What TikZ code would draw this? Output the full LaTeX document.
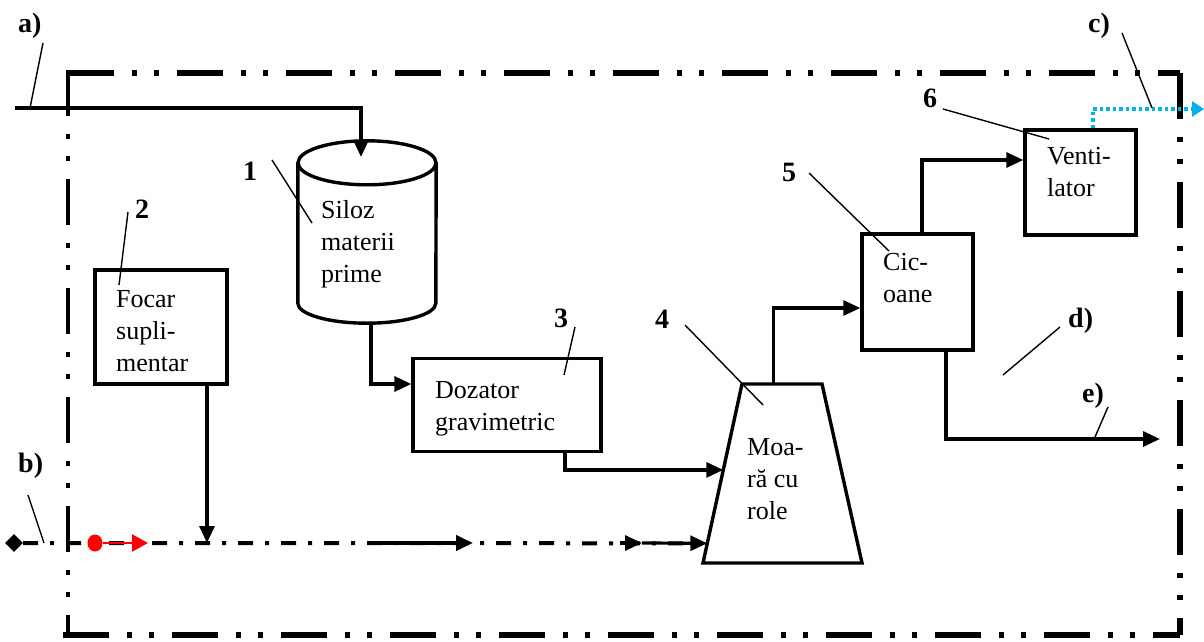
\documentclass[tikz,border=0pt]{standalone}
\usepackage{fontspec}
\setmainfont{Liberation Serif}
\usepackage{tikz}
\usetikzlibrary{arrows.meta, calc, shapes.geometric}

\definecolor{aer}{RGB}{0,176,240}

\begin{document}
\begin{tikzpicture}[x=1pt, y=-1pt, >={Triangle[length=17pt,width=15pt]},
    every node/.style={font=\fontsize{26}{32}\selectfont, inner sep=0pt},
    unitbox/.style={draw, line width=3.4pt},
    txt/.style={anchor=north west, align=left},
    num/.style={anchor=base west, font=\fontsize{28}{32}\selectfont\bfseries},
    leader/.style={line width=1.4pt},
    flow/.style={->, line width=3.2pt},
    edge/.style={line width=6pt, dash pattern=on 46pt off 18pt on 5pt off 17pt on 5pt off 18pt},
    gasline/.style={line width=4pt, dash pattern=on 15pt off 12pt on 4pt off 12pt}]
    \useasboundingbox (0,0) rectangle (1204,642);

    % 1. contur instalatie
    \draw[edge] (68,73) -- (1180,73);
    \draw[edge, line width=4.5pt] (68,70) -- (68,635);
    \draw[edge] (1180,73) -- (1180,635);
    \draw[edge] (63,635) -- (1180,635);

    % 2. utilaje
    \node[minimum width=138, minimum height=140] (siloz) at (367,233) {};
    \draw[line width=3.4pt] (siloz.north west) -- (siloz.south west)
        arc[start angle=180, end angle=360, x radius=69pt, y radius=20pt] -- (siloz.north east);
    \draw[line width=3.4pt] (siloz.north) ellipse[x radius=69pt, y radius=22pt];
    \node[unitbox, minimum width=132, minimum height=114] (focar) at (161,327) {};
    \node[unitbox, minimum width=188, minimum height=93] (dozator) at (507,405) {};
    \node[unitbox, minimum width=111, minimum height=116] (cicloane) at (917.5,292) {};
    \node[unitbox, minimum width=111, minimum height=105] (ventilator) at (1080.5,182.5) {};
    \coordinate (mtl) at (742,384);
    \coordinate (mtr) at (822,384);
    \coordinate (mbr) at (862,563);
    \coordinate (mbl) at (703,563);
    \draw[line width=3.4pt] (mtl) -- (mtr) -- (mbr) -- (mbl) -- cycle;

    % 3. texte
    \node[txt] (tsiloz) at (321,200) {Siloz\\materii\\prime};
    \node[txt] (tfocar) at (116,290) {Focar\\supli-\\mentar};
    \node[txt] (tdozator) at (435,381) {Dozator\\gravimetric};
    \node[txt] (tmoara) at (747,438) {Moa-\\ră cu\\role};
    \node[txt] (tcicloane) at (883,253) {Cic-\\oane};
    \node[txt] (tventilator) at (1047,147) {Venti-\\lator};

    % 4. fluxuri de material
    \coordinate (ain) at (15,108);
    \coordinate (siloin) at (361,157);
    \draw[flow] (ain) -| (siloin);
    \draw[flow] ([xshift=4pt,yshift=-20pt]siloz.south) |- ([yshift=21pt]dozator.west);
    \draw[flow] ([xshift=58pt]dozator.south) |- ($(mtl)!0.48!(mbl)$);
    \draw[flow] ($(mtl)!0.39!(mtr)$) |- ([yshift=-16pt]cicloane.west);
    \draw[flow] ([xshift=4.5pt]cicloane.north) |- ([yshift=22.5pt]ventilator.west);
    \coordinate (eout) at (1160,439);
    \draw[flow] ([xshift=28.5pt]cicloane.south) |- (eout);
    \coordinate (cout) at (1204,109);
    \draw[aer, line width=3.5pt, dash pattern=on 3.5pt off 3pt, -{Triangle[length=12pt,width=15pt]}]
        ([xshift=12.5pt]ventilator.north) |- (cout);

    % 5. gaze calde
    \node[diamond, fill, minimum size=18pt] (bin) at (14,543) {};
    \coordinate (mb) at ($(mtl)!0.89!(mbl)$);
    \draw[gasline] (bin) -- (mb);
    \coordinate (bjoin) at (207,543);
    \draw[flow] ([xshift=46pt]focar.south) -- (bjoin);
    \node[ellipse, fill=red, minimum width=15pt, minimum height=17pt] (rdot) at (95,543) {};
    \coordinate (rend) at (148,543);
    \draw[red, line width=2.5pt, -{Triangle[length=16pt,width=17pt]}] (rdot) -- (rend);
    \coordinate (g1) at (368,543);
    \coordinate (g2) at (473,543);
    \coordinate (g3) at (620,543);
    \coordinate (g4) at (642,543);
    \draw[flow, line width=4pt] (g1) -- (g2);
    \draw[flow] (g3) -- (g4);
    \draw[flow] (g4) -- (mb);

    % 6. repere
    \node[num] (la) at (18,33) {a)};
    \node[num] (lb) at (18,472) {b)};
    \node[num] (lc) at (1088,33) {c)};
    \node[num] (ld) at (1068,327) {d)};
    \node[num] (le) at (1082,402) {e)};
    \node[num] (l1) at (243,180) {1};
    \node[num] (l2) at (135,218) {2};
    \node[num] (l3) at (554,327) {3};
    \node[num] (l4) at (655,328) {4};
    \node[num] (l5) at (782,181) {5};
    \node[num] (l6) at (923,107) {6};
    \draw[leader] (43,43) -- (30,108);
    \draw[leader] (28,495) -- (44,543);
    \draw[leader] (1122,33) -- (1152,108);
    \draw[leader] (1060,327) -- (1003,375);
    \draw[leader] (1108,407) -- (1095,437);
    \draw[leader] (272,160) -- (312,223);
    \draw[leader] (128,212) -- (119,285);
    \draw[leader] (575,327) -- (564,375);
    \draw[leader] (685,325) -- (763,405);
    \draw[leader] (809,173) -- (889,251);
    \draw[leader] (943,109) -- (1049,139);
\end{tikzpicture}
\end{document}
